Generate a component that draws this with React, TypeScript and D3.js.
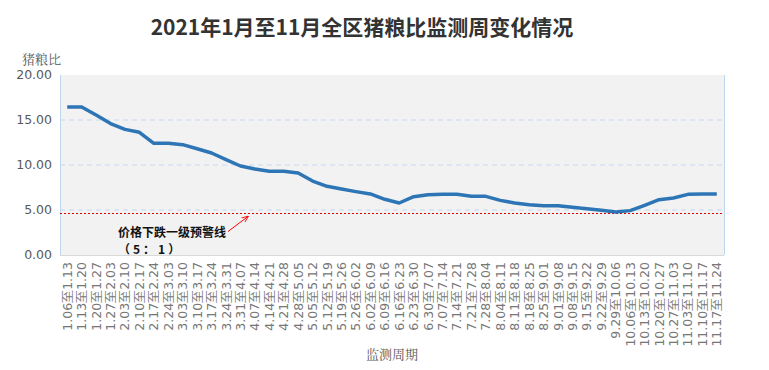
import { useRef, useEffect } from "react";
import * as d3 from "d3";

// weekly monitoring periods
const periods = [
  "1.06至1.13", "1.13至1.20", "1.20至1.27", "1.27至2.03", "2.03至2.10", "2.10至2.17",
  "2.17至2.24", "2.24至3.03", "3.03至3.10", "3.10至3.17", "3.17至3.24", "3.24至3.31",
  "3.31至4.07", "4.07至4.14", "4.14至4.21", "4.21至4.28", "4.28至5.05", "5.05至5.12",
  "5.12至5.19", "5.19至5.26", "5.26至6.02", "6.02至6.09", "6.09至6.16", "6.16至6.23",
  "6.23至6.30", "6.30至7.07", "7.07至7.14", "7.14至7.21", "7.21至7.28", "7.28至8.04",
  "8.04至8.11", "8.11至8.18", "8.18至8.25", "8.25至9.01", "9.01至9.08", "9.08至9.15",
  "9.15至9.22", "9.22至9.29", "9.29至10.06", "10.06至10.13", "10.13至10.20", "10.20至10.27",
  "10.27至11.03", "11.03至11.10", "11.10至11.17", "11.17至11.24",
];

// pig-grain price ratio
const ratio = [
  16.44, 16.44, 15.55, 14.6, 13.96, 13.63, 12.41, 12.41, 12.26, 11.81, 11.33, 10.59,
  9.89, 9.56, 9.3, 9.3, 9.11, 8.22, 7.63, 7.33, 7.04, 6.78, 6.19, 5.78,
  6.48, 6.7, 6.74, 6.74, 6.52, 6.52, 6.07, 5.78, 5.59, 5.48, 5.48, 5.3,
  5.15, 4.96, 4.78, 4.93, 5.52, 6.15, 6.33, 6.74, 6.78, 6.78,
];

const yTicks = [0, 5, 10, 15, 20];
const warnLevel = 4.63;

const W = 769;
const H = 370;
const M = { top: 75, right: 45, bottom: 115, left: 60 };

export default function App() {
  const ref = useRef<SVGSVGElement>(null);

  useEffect(() => {
    const svg = d3.select(ref.current);
    svg.selectAll("*").remove();

    const x = d3.scaleBand().domain(periods).range([M.left, W - M.right]);
    const y = d3.scaleLinear().domain([0, 20]).range([H - M.bottom, M.top]);
    const cx = (d: string) => (x(d) ?? 0) + x.bandwidth() / 2;

    // plot background
    svg.append("rect")
      .attr("x", M.left).attr("y", M.top)
      .attr("width", W - M.left - M.right).attr("height", H - M.top - M.bottom)
      .attr("fill", "#f2f2f2");

    // gridlines
    svg.append("g").selectAll("line")
      .data(yTicks.filter((t) => t > 0 && t < 20))
      .join("line")
      .attr("x1", M.left).attr("x2", W - M.right)
      .attr("y1", (d) => y(d)).attr("y2", (d) => y(d))
      .attr("stroke", "#c6d9f0").attr("stroke-dasharray", "5,4");

    // axes borders
    svg.append("line")
      .attr("x1", M.left + 0.5).attr("x2", M.left + 0.5)
      .attr("y1", M.top).attr("y2", y(0))
      .attr("stroke", "#bdd7ee");
    svg.append("line")
      .attr("x1", W - M.right + 0.5).attr("x2", W - M.right + 0.5)
      .attr("y1", M.top).attr("y2", y(0))
      .attr("stroke", "#bdd7ee");
    svg.append("line")
      .attr("x1", M.left).attr("x2", W - M.right)
      .attr("y1", y(0) + 0.5).attr("y2", y(0) + 0.5)
      .attr("stroke", "#d9d9d9");

    // y tick labels
    svg.append("g").selectAll("text")
      .data(yTicks)
      .join("text")
      .attr("x", 52).attr("y", (d) => y(d))
      .attr("dy", "0.35em")
      .attr("text-anchor", "end")
      .attr("font-family", "DejaVu Sans")
      .attr("font-size", 12.5)
      .attr("fill", "#595959")
      .text((d) => d3.format(".2f")(d));

    // x tick labels
    svg.append("g").selectAll("text")
      .data(periods)
      .join("text")
      .attr("transform", (d) => `translate(${cx(d) + 4.5},${y(0) + 7}) rotate(-90)`)
      .attr("text-anchor", "end")
      .attr("font-family", "DejaVu Sans")
      .attr("font-size", 12.5)
      .attr("fill", "#767676")
      .text((d) => d);

    // warning line
    svg.append("line")
      .attr("x1", M.left).attr("x2", W - M.right)
      .attr("y1", Math.round(y(warnLevel)) + 0.5).attr("y2", Math.round(y(warnLevel)) + 0.5)
      .attr("stroke", "#e00000").attr("stroke-width", 1.2)
      .attr("stroke-dasharray", "2,2")
      .attr("shape-rendering", "crispEdges");

    // series line
    const line = d3.line<number>()
      .x((_, i) => cx(periods[i]))
      .y((d) => y(d));
    svg.append("path")
      .datum(ratio)
      .attr("d", line)
      .attr("fill", "none")
      .attr("stroke", "#2e75b6")
      .attr("stroke-width", 3.5)
      .attr("stroke-linejoin", "round");

    // annotation
    const ann = svg.append("g")
      .attr("font-family", "Noto Sans CJK SC")
      .attr("font-weight", "bold")
      .attr("font-size", 12)
      .attr("fill", "#111");
    ann.append("text").attr("x", 118).attr("y", 237).text("价格下跌一级预警线");
    ann.append("text").attr("x", 118).attr("y", 254)
      .attr("letter-spacing", 3)
      .text("（5：1）");

    svg.append("defs").append("marker")
      .attr("id", "arr").attr("viewBox", "0 0 10 10")
      .attr("refX", 9).attr("refY", 5)
      .attr("markerWidth", 7).attr("markerHeight", 7)
      .attr("orient", "auto")
      .append("path").attr("d", "M0,1 L10,5 L0,9").attr("fill", "none")
      .attr("stroke", "#ff0000").attr("stroke-width", 1.2);
    svg.append("line")
      .attr("x1", 228).attr("y1", 231.5).attr("x2", 248).attr("y2", 216.5)
      .attr("stroke", "#ff0000").attr("stroke-width", 1)
      .attr("marker-end", "url(#arr)");

    // title
    svg.append("text")
      .attr("x", 362).attr("y", 35)
      .attr("text-anchor", "middle")
      .attr("font-family", "Noto Sans CJK SC")
      .attr("font-weight", "bold")
      .attr("font-size", 21)
      .attr("fill", "#333")
      .text("2021年1月至11月全区猪粮比监测周变化情况");

    // axis titles
    svg.append("text")
      .attr("x", 22).attr("y", 64)
      .attr("font-family", "Noto Serif CJK SC, serif")
      .attr("font-size", 13)
      .attr("fill", "#595959")
      .text("猪粮比");
    svg.append("text")
      .attr("x", (M.left + W - M.right) / 2).attr("y", 359)
      .attr("text-anchor", "middle")
      .attr("font-family", "Noto Serif CJK SC, serif")
      .attr("font-size", 13)
      .attr("fill", "#595959")
      .text("监测周期");
  }, []);

  return (
    <svg
      ref={ref}
      width={W}
      height={H}
      style={{ position: "absolute", left: 0, top: 0, background: "#fff" }}
    />
  );
}
